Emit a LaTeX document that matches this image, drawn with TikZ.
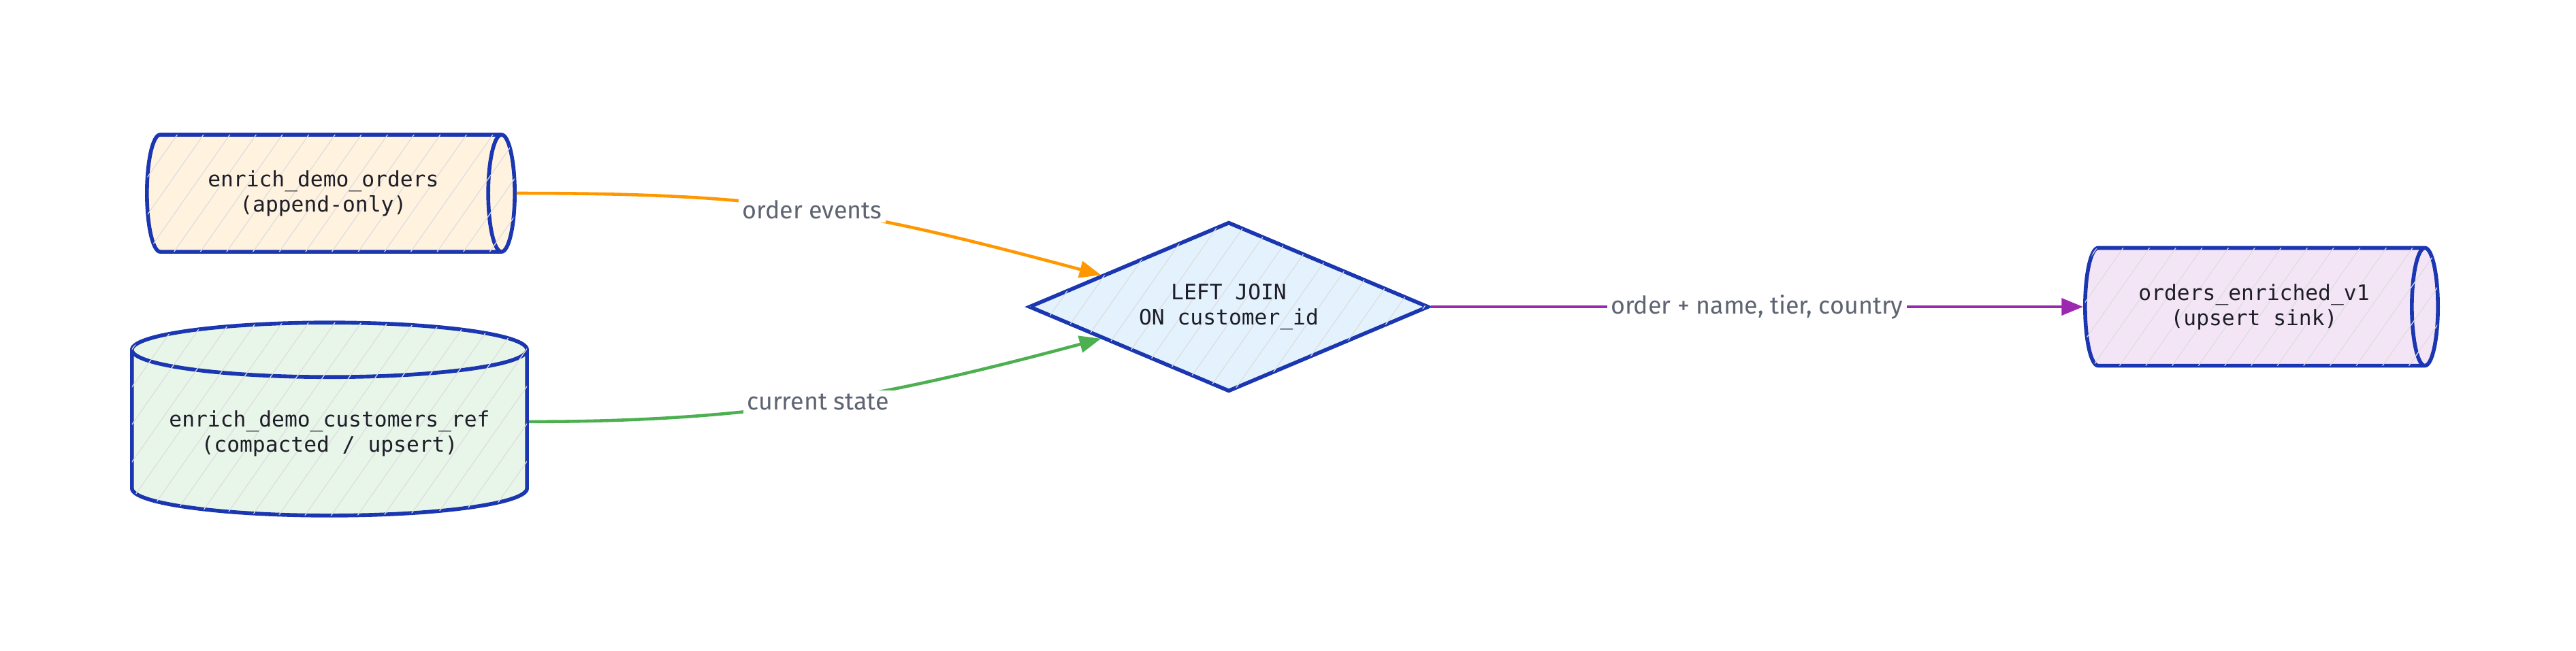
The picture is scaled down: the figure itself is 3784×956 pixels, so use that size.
\documentclass[tikz,border=0pt]{standalone}
\usepackage{fontspec}
\setmonofont{DejaVu Sans Mono}
\setsansfont{Fira Sans}
\usepackage{tikz}
\usetikzlibrary{shapes.geometric}
\usetikzlibrary{arrows.meta}
\usetikzlibrary{patterns.meta}
\definecolor{inkblue}{HTML}{1A36B0}
\definecolor{inkdark}{HTML}{1E1E28}
\definecolor{labelgray}{HTML}{5F6473}
\definecolor{ordersfill}{HTML}{FFF3E0}
\definecolor{custfill}{HTML}{E8F5E9}
\definecolor{joinfill}{HTML}{E3F2FD}
\definecolor{sinkfill}{HTML}{F3E5F5}
\definecolor{orderline}{HTML}{FF9800}
\definecolor{stateline}{HTML}{4CAF50}
\definecolor{outline}{HTML}{9C27B0}
\tikzset{
  hatch/.style={postaction={pattern={Lines[angle=55,distance=9pt,line width=0.35pt]}, pattern color=black!13}},
  store/.style={cylinder, draw=inkblue, line width=1.6pt, align=center, inner sep=0pt, hatch,
    anchor=shape center, text=inkdark, font=\ttfamily\fontsize{8.9}{10.5}\selectfont},
  joinbox/.style={diamond, draw=inkblue, line width=1.6pt, align=center, inner sep=0pt, hatch,
    fill=joinfill, text=inkdark, font=\ttfamily\fontsize{8.9}{10.5}\selectfont,
    minimum width=5.87cm, minimum height=2.49cm, aspect=2.36},
  flow/.style={line width=1.3pt, -{Triangle[length=9pt,width=7pt]}},
  flowlabel/.style={fill=white, text=labelgray, inner sep=1.5pt,
    font=\sffamily\fontsize{10.2}{11}\selectfont}
}

\begin{document}
\begin{tikzpicture}[x=0.01cm, y=-0.01cm]
\useasboundingbox (0,0) rectangle (3784,956);
% sources
\node[store, fill=ordersfill, minimum width=1.72cm, minimum height=5.4cm, aspect=0.58]
  (orders) at (486,284) {enrich\_demo\_orders\\(append-only)};
\node[store, fill=custfill, shape border rotate=90, minimum width=5.8cm, minimum height=2.835cm, aspect=0.17]
  (customers) at (484,616) {enrich\_demo\_customers\_ref\\(compacted / upsert)};
% join
\node[joinbox] (join) at (1805,451) {LEFT JOIN\\ON customer\_id};
% sink
\node[store, fill=sinkfill, minimum width=1.73cm, minimum height=5.18cm, aspect=0.57]
  (sink) at (3322,451) {orders\_enriched\_v1\\(upsert sink)};

\draw[flow, orderline] (orders.east) to[out=0, in=165, looseness=1.1] node[flowlabel, pos=0.5] {order events} (join.166);
\draw[flow, stateline] ([yshift=5pt]customers.0) to[out=0, in=195] node[flowlabel] {current state} (join.194);
\draw[flow, outline] (join.east) -- node[flowlabel] {order + name, tier, country} (sink.west);
\end{tikzpicture}
\end{document}
